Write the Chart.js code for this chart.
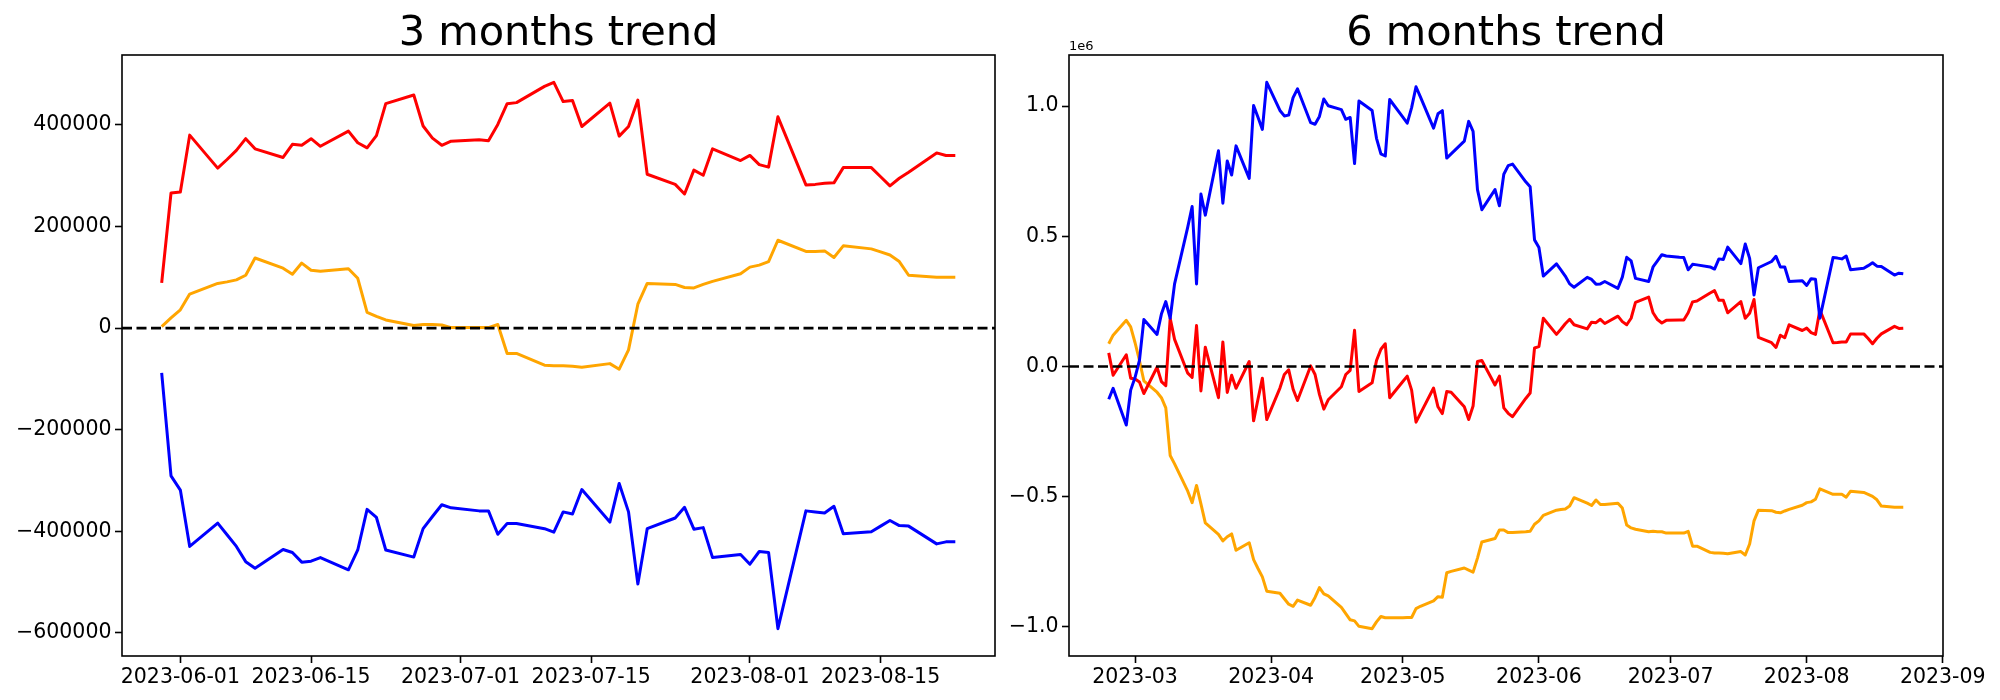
<!DOCTYPE html>
<html>
<head>
<meta charset="utf-8">
<script src="https://cdn.jsdelivr.net/npm/chart.js@4"></script>
<style>
  html, body { margin: 0; padding: 0; background: #fff; }
  #wrap { position: relative; width: 2000px; height: 700px; }
  canvas { position: absolute; top: 0; }
  #c3 { left: 0; }
  #c6 { left: 1000px; }
</style>
</head>
<body>
<div id="wrap">
  <canvas id="c3" width="1000" height="700"></canvas>
  <canvas id="c6" width="1000" height="700"></canvas>
</div>
<script>
// ---- 3 months ----
const dates3m = [
  '2023-05-30','2023-05-31','2023-06-01','2023-06-02',
  '2023-06-05','2023-06-06','2023-06-07','2023-06-08','2023-06-09',
  '2023-06-12','2023-06-13','2023-06-14','2023-06-15','2023-06-16',
  '2023-06-19','2023-06-20','2023-06-21','2023-06-22','2023-06-23',
  '2023-06-26','2023-06-27','2023-06-28','2023-06-29','2023-06-30',
  '2023-07-03','2023-07-04','2023-07-05','2023-07-06','2023-07-07',
  '2023-07-10','2023-07-11','2023-07-12','2023-07-13','2023-07-14',
  '2023-07-17','2023-07-18','2023-07-19','2023-07-20','2023-07-21',
  '2023-07-24','2023-07-25','2023-07-26','2023-07-27','2023-07-28',
  '2023-07-31','2023-08-01','2023-08-02','2023-08-03','2023-08-04',
  '2023-08-07','2023-08-08','2023-08-09','2023-08-10','2023-08-11',
  '2023-08-14','2023-08-15','2023-08-16','2023-08-17','2023-08-18',
  '2023-08-21','2023-08-22','2023-08-23'
];
const red3m = [
  89000, 266000, 268000, 380000,
  315000, 332000, 350000, 373000, 353000,
  336000, 362000, 360000, 373000, 358000,
  388000, 365000, 355000, 379000, 442000,
  459000, 398000, 374000, 360000, 368000,
  371000, 369000, 401000, 442000, 444000,
  476000, 484000, 446000, 448000, 397000,
  443000, 378000, 397000, 449000, 303000,
  283000, 264000, 311000, 301000, 353000,
  330000, 340000, 322000, 317000, 416000,
  282000, 283000, 285000, 286000, 316000,
  316000, 298000, 280000, 295000, 307000,
  345000, 340000, 340000
];
const blue3m = [
  -88000, -291000, -319000, -430000,
  -384000, -407000, -430000, -460000, -473000,
  -436000, -442000, -461000, -459000, -452000,
  -476000, -437000, -357000, -373000, -437000,
  -451000, -395000, -371000, -348000, -354000,
  -360000, -360000, -406000, -385000, -385000,
  -395000, -402000, -362000, -366000, -318000,
  -382000, -306000, -362000, -504000, -395000,
  -374000, -353000, -396000, -393000, -452000,
  -446000, -465000, -440000, -442000, -592000,
  -360000, -362000, -364000, -351000, -405000,
  -401000, -390000, -379000, -389000, -390000,
  -425000, -421000, -421000
];
const orange3m = [
  3000, 20000, 36000, 67000,
  88000, 91000, 95000, 104000, 138000,
  118000, 106000, 128000, 114000, 112000,
  117000, 98000, 31000, 23000, 16000,
  5000, 7000, 7000, 6000, 1000,
  1000, 1000, 7000, -50000, -50000,
  -73000, -74000, -74000, -75000, -77000,
  -70000, -81000, -43000, 47000, 88000,
  86000, 80000, 79000, 86000, 92000,
  107000, 120000, 124000, 131000, 173000,
  151000, 151000, 152000, 139000, 162000,
  156000, 150000, 144000, 131000, 104000,
  100000, 100000, 100000
];
const xTicks3m = ['2023-06-01', '2023-06-15', '2023-07-01', '2023-07-15', '2023-08-01', '2023-08-15'];
const yTicks3m = [-600000, -400000, -200000, 0, 200000, 400000];

// ---- 6 months ----
const dates6m = [
  '2023-02-23','2023-02-24','2023-02-27','2023-02-28',
  '2023-03-01','2023-03-02','2023-03-03',
  '2023-03-06','2023-03-07','2023-03-08','2023-03-09','2023-03-10',
  '2023-03-13','2023-03-14','2023-03-15','2023-03-16','2023-03-17',
  '2023-03-20','2023-03-21','2023-03-22','2023-03-23','2023-03-24',
  '2023-03-27','2023-03-28','2023-03-29','2023-03-30','2023-03-31',
  '2023-04-03','2023-04-04','2023-04-05','2023-04-06','2023-04-07',
  '2023-04-10','2023-04-11','2023-04-12','2023-04-13','2023-04-14',
  '2023-04-17','2023-04-18','2023-04-19','2023-04-20','2023-04-21',
  '2023-04-24','2023-04-25','2023-04-26','2023-04-27','2023-04-28',
  '2023-05-01','2023-05-02','2023-05-03','2023-05-04','2023-05-05',
  '2023-05-08','2023-05-09','2023-05-10','2023-05-11','2023-05-12',
  '2023-05-15','2023-05-16','2023-05-17','2023-05-18','2023-05-19',
  '2023-05-22','2023-05-23','2023-05-24','2023-05-25','2023-05-26',
  '2023-05-29','2023-05-30','2023-05-31','2023-06-01','2023-06-02',
  '2023-06-05','2023-06-06','2023-06-07','2023-06-08','2023-06-09',
  '2023-06-12','2023-06-13','2023-06-14','2023-06-15','2023-06-16',
  '2023-06-19','2023-06-20','2023-06-21','2023-06-22','2023-06-23',
  '2023-06-26','2023-06-27','2023-06-28','2023-06-29','2023-06-30',
  '2023-07-03','2023-07-04','2023-07-05','2023-07-06','2023-07-07',
  '2023-07-10','2023-07-11','2023-07-12','2023-07-13','2023-07-14',
  '2023-07-17','2023-07-18','2023-07-19','2023-07-20','2023-07-21',
  '2023-07-24','2023-07-25','2023-07-26','2023-07-27','2023-07-28',
  '2023-07-31','2023-08-01','2023-08-02','2023-08-03','2023-08-04',
  '2023-08-07','2023-08-08','2023-08-09','2023-08-10','2023-08-11',
  '2023-08-14','2023-08-15','2023-08-16','2023-08-17','2023-08-18',
  '2023-08-21','2023-08-22','2023-08-23'
];
const blue6m = [
  -126000, -84000, -225000, -91000,
  -42000, 23000, 180000,
  123000, 201000, 249000, 185000, 317000,
  535000, 614000, 317000, 662000, 581000,
  828000, 627000, 789000, 735000, 847000,
  722000, 1002000, 957000, 910000, 1091000,
  983000, 962000, 965000, 1032000, 1066000,
  936000, 930000, 960000, 1027000, 1001000,
  986000, 949000, 956000, 779000, 1019000,
  983000, 876000, 816000, 808000, 1025000,
  957000, 934000, 994000, 1074000, 1035000,
  915000, 970000, 982000, 800000, 816000,
  865000, 941000, 903000, 679000, 602000,
  679000, 617000, 738000, 771000, 777000,
  709000, 690000, 486000, 457000, 347000,
  394000, 371000, 347000, 317000, 304000,
  342000, 334000, 316000, 317000, 326000,
  300000, 343000, 419000, 405000, 338000,
  326000, 382000, 405000, 429000, 424000,
  419000, 418000, 371000, 392000, 390000,
  382000, 374000, 413000, 411000, 458000,
  395000, 470000, 415000, 274000, 379000,
  403000, 423000, 382000, 382000, 326000,
  329000, 311000, 337000, 335000, 185000,
  418000, 416000, 413000, 424000, 371000,
  377000, 387000, 398000, 385000, 384000,
  351000, 358000, 356000
];
const red6m = [
  52000, -34000, 45000, -45000,
  -48000, -60000, -104000,
  -3000, -58000, -74000, 185000, 104000,
  -26000, -42000, 157000, -94000, 74000,
  -120000, 94000, -100000, -34000, -84000,
  19000, -209000, -126000, -45000, -204000,
  -83000, -31000, -13000, -87000, -131000,
  2000, -31000, -107000, -164000, -128000,
  -78000, -31000, -15000, 139000, -96000,
  -63000, 23000, 66000, 87000, -120000,
  -58000, -37000, -91000, -214000, -181000,
  -83000, -155000, -181000, -96000, -99000,
  -155000, -204000, -152000, 19000, 23000,
  -71000, -37000, -159000, -180000, -193000,
  -123000, -102000, 71000, 76000, 185000,
  123000, 143000, 164000, 181000, 160000,
  144000, 170000, 168000, 181000, 165000,
  193000, 172000, 160000, 185000, 246000,
  266000, 206000, 180000, 167000, 177000,
  178000, 178000, 206000, 248000, 251000,
  282000, 291000, 254000, 254000, 206000,
  249000, 185000, 204000, 257000, 112000,
  91000, 73000, 120000, 110000, 160000,
  138000, 147000, 130000, 123000, 217000,
  91000, 92000, 94000, 94000, 125000,
  125000, 107000, 87000, 108000, 125000,
  154000, 146000, 147000
];
const orange6m = [
  87000, 120000, 177000, 152000,
  91000, 23000, -55000,
  -99000, -120000, -159000, -342000, -374000,
  -479000, -523000, -457000, -528000, -601000,
  -645000, -670000, -654000, -643000, -706000,
  -677000, -742000, -776000, -808000, -863000,
  -871000, -892000, -913000, -921000, -897000,
  -917000, -887000, -849000, -873000, -881000,
  -925000, -949000, -973000, -977000, -998000,
  -1007000, -981000, -960000, -965000, -965000,
  -965000, -964000, -964000, -930000, -921000,
  -900000, -884000, -886000, -792000, -787000,
  -774000, -782000, -790000, -736000, -674000,
  -661000, -628000, -628000, -638000, -638000,
  -635000, -633000, -606000, -593000, -572000,
  -552000, -549000, -547000, -536000, -504000,
  -525000, -534000, -513000, -530000, -530000,
  -525000, -544000, -609000, -620000, -625000,
  -635000, -633000, -635000, -635000, -640000,
  -640000, -640000, -633000, -690000, -690000,
  -714000, -716000, -716000, -717000, -719000,
  -711000, -724000, -682000, -593000, -552000,
  -554000, -560000, -562000, -555000, -549000,
  -533000, -523000, -520000, -510000, -470000,
  -491000, -491000, -491000, -502000, -479000,
  -484000, -491000, -499000, -512000, -536000,
  -541000, -541000, -541000
];
const xTicks6m = ['2023-03-01', '2023-04-01', '2023-05-01', '2023-06-01', '2023-07-01', '2023-08-01', '2023-09-01'];
const yTicks6m = [-1.0, -0.5, 0.0, 0.5, 1.0]; // x 1e6

const FONT = "'DejaVu Sans', sans-serif";
const DAY = 86400000;
const toDay = s => Date.parse(s) / DAY;
const dayStr = v => new Date(Math.round(v) * DAY).toISOString().slice(0, 10);
const withMinus = s => s.replace('-', '\u2212');

// dashed zero line + box around the axes, drawn like matplotlib spines
const framePlugin = {
  id: 'frame',
  afterDatasetsDraw(chart) {
    const { ctx, chartArea: a } = chart;
    const y0 = chart.scales.y.getPixelForValue(0);
    ctx.save();
    ctx.strokeStyle = '#000';
    ctx.lineWidth = 2.6;
    ctx.setLineDash([10, 4.5]);
    ctx.beginPath();
    ctx.moveTo(a.left, y0);
    ctx.lineTo(a.right, y0);
    ctx.stroke();
    ctx.setLineDash([]);
    ctx.lineWidth = 1.6;
    ctx.strokeRect(a.left, a.top, a.right - a.left, a.bottom - a.top);
    if (chart.options.offsetText) {
      ctx.fillStyle = '#000';
      ctx.font = '13px ' + FONT;
      ctx.textAlign = 'left';
      ctx.textBaseline = 'alphabetic';
      ctx.fillText(chart.options.offsetText, a.left, a.top - 5);
    }
    ctx.restore();
  }
};

function makeChart(id, cfg) {
  const xs = cfg.dates.map(toDay);
  const span = xs[xs.length - 1] - xs[0];
  const all = [].concat(...cfg.series.map(s => s.values));
  const lo = Math.min(...all), hi = Math.max(...all);
  const pad = (hi - lo) * 0.05;

  return new Chart(document.getElementById(id), {
    type: 'line',
    data: {
      datasets: cfg.series.map(s => ({
        label: s.label,
        data: s.values.map((v, i) => ({ x: xs[i], y: v })),
        borderColor: s.color,
        borderWidth: 3,
        borderJoinStyle: 'round',
        pointRadius: 0,
        tension: 0,
        fill: false
      }))
    },
    options: {
      responsive: false,
      animation: false,
      events: [],
      offsetText: cfg.offsetText,
      layout: { padding: { top: 0, right: cfg.padRight, bottom: 0, left: 0 } },
      plugins: {
        legend: { display: false },
        tooltip: { enabled: false },
        title: {
          display: true,
          text: cfg.title,
          fullSize: false,
          color: '#000',
          font: { family: FONT, size: 41.5, weight: 'normal', lineHeight: 1 },
          padding: { top: 13, bottom: 0.5 }
        }
      },
      scales: {
        x: {
          type: 'linear',
          min: xs[0] - span * 0.05,
          max: xs[xs.length - 1] + span * 0.05,
          afterBuildTicks: sc => { sc.ticks = cfg.xTicks.map(t => ({ value: toDay(t) })); },
          afterFit: sc => { sc.height = 44; },
          ticks: {
            callback: v => cfg.xLabel(v),
            color: '#000',
            font: { family: FONT, size: 20.5 },
            maxRotation: 0,
            autoSkip: false,
            padding: 2
          },
          grid: { drawOnChartArea: false, drawTicks: true, tickLength: 7, tickWidth: 1.6, tickColor: '#000' },
          border: { display: false }
        },
        y: {
          type: 'linear',
          min: lo - pad,
          max: hi + pad,
          afterBuildTicks: sc => { sc.ticks = cfg.yTicks.map(t => ({ value: t * cfg.yUnit })); },
          afterFit: sc => { sc.width = cfg.yWidth; },
          ticks: {
            callback: v => cfg.yLabel(v),
            color: '#000',
            font: { family: FONT, size: 20.5 },
            autoSkip: false,
            padding: 3.5
          },
          grid: { drawOnChartArea: false, drawTicks: true, tickLength: 7, tickWidth: 1.6, tickColor: '#000' },
          border: { display: false }
        }
      }
    },
    plugins: [framePlugin]
  });
}

makeChart('c3', {
  title: '3 months trend',
  dates: dates3m,
  series: [
    { label: 'red', values: red3m, color: '#ff0000' },
    { label: 'blue', values: blue3m, color: '#0000ff' },
    { label: 'orange', values: orange3m, color: '#ffa500' }
  ],
  xTicks: xTicks3m,
  xLabel: v => dayStr(v),
  yTicks: yTicks3m,
  yUnit: 1,
  yLabel: v => withMinus(String(Math.round(v))),
  yWidth: 122,
  padRight: 5
});

makeChart('c6', {
  title: '6 months trend',
  dates: dates6m,
  series: [
    { label: 'blue', values: blue6m, color: '#0000ff' },
    { label: 'red', values: red6m, color: '#ff0000' },
    { label: 'orange', values: orange6m, color: '#ffa500' }
  ],
  xTicks: xTicks6m,
  xLabel: v => dayStr(v).slice(0, 7),
  yTicks: yTicks6m,
  yUnit: 1e6,
  yLabel: v => withMinus((v / 1e6).toFixed(1)),
  yWidth: 69,
  padRight: 57,
  offsetText: '1e6'
});
</script>
</body>
</html>
